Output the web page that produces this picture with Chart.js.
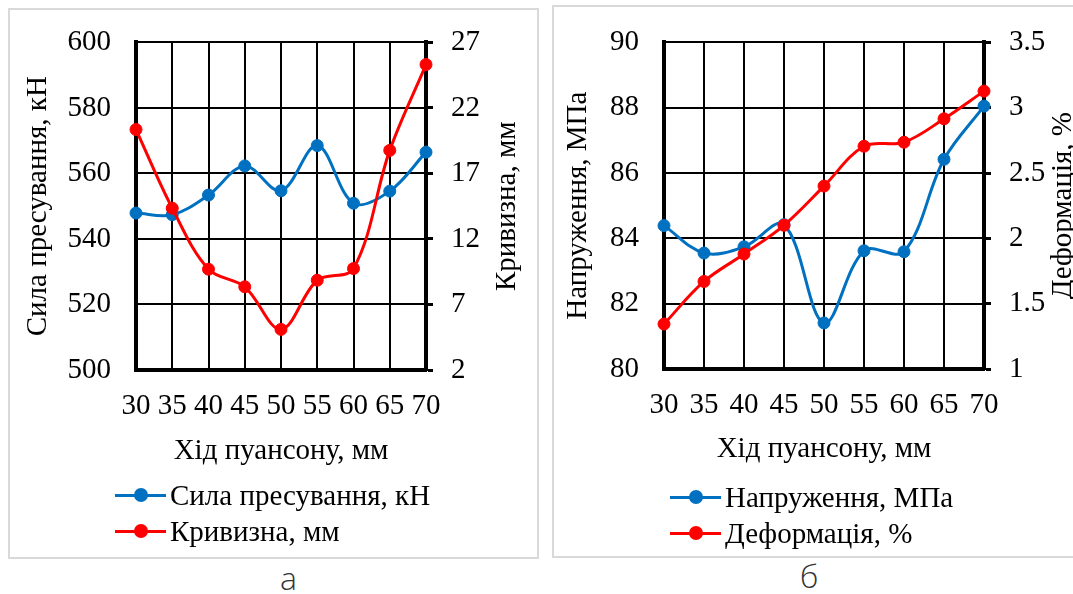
<!DOCTYPE html>
<html><head><meta charset="utf-8">
<script src="https://cdn.jsdelivr.net/npm/chart.js@4.4.1/dist/chart.umd.min.js"></script>
<style>
html,body{margin:0;padding:0;background:#fff;}
body{width:1073px;height:594px;overflow:hidden;position:relative;font-family:'Liberation Serif','Times New Roman',Tinos,'DejaVu Serif',serif;}
.frame{position:absolute;border:2px solid #d9d9d9;box-sizing:border-box;}
#frameA{left:8px;top:8px;width:531px;height:551px;}
#frameB{left:552px;top:5px;width:540px;height:553px;}
canvas{position:absolute;top:0;}
#cA{left:0;}
#cB{left:548px;}
.legend{position:absolute;font-size:29px;color:#000;}
.item{display:flex;align-items:center;height:36px;white-space:nowrap;}
.sample{position:relative;width:51px;height:14px;margin-right:4px;flex:none;}
.sample .ln{position:absolute;left:0;right:0;top:5.5px;height:3px;}
.sample .dot{position:absolute;left:18.5px;top:0;width:14px;height:14px;border-radius:50%;}
.cap{position:absolute;font-family:'Open Sans',sans-serif;font-weight:300;font-size:32px;color:#333;line-height:1;}
</style>
</head><body>
<div class="frame" id="frameA"></div>
<div class="frame" id="frameB"></div>
<canvas id="cA" width="545" height="480"></canvas>
<canvas id="cB" width="525" height="480"></canvas>
<div class="legend" id="legA" style="left:115px;top:477px;"></div>
<div class="legend" id="legB" style="left:670px;top:479px;"></div>
<div class="cap" style="left:280px;top:562px;">а</div>
<div class="cap" style="left:800px;top:560px;">б</div>
<script>
// ---- data ----
const categories = ['30', '35', '40', '45', '50', '55', '60', '65', '70'];
const xTitle = 'Хід пуансону, мм';

const forceLabel = 'Сила пресування, кН';
const forceKN = [547.9, 547.4, 553.4, 562.3, 554.7, 568.5, 550.9, 554.6, 566.5];
const forceTicks = [500, 520, 540, 560, 580, 600];

const curvLabel = 'Кривизна, мм';
const curvatureMM = [20.35, 14.35, 9.69, 8.35, 5.1, 8.85, 9.74, 18.76, 25.31];
const curvTicks = [2, 7, 12, 17, 22, 27];

const stressLabel = 'Напруження, МПа';
const stressMPa = [84.39, 83.55, 83.74, 84.42, 81.41, 83.62, 83.59, 86.42, 88.05];
const stressTicks = [80, 82, 84, 86, 88, 90];

const strainLabel = 'Деформація, %';
const strainPct = [1.344, 1.67, 1.88, 2.10, 2.40, 2.705, 2.736, 2.915, 3.127];
const strainTicks = [1, 1.5, 2, 2.5, 3, 3.5];

// ---- styles ----
const BLUE = '#0070C0';
const RED = '#FF0000';
const FONT = "'Liberation Serif', 'Times New Roman', Tinos, 'DejaVu Serif', serif";
const FSIZE = 29;

const titlePlugin = {
  id: 'axisTitles',
  afterDraw(chart, args, opts) {
    const {ctx, chartArea} = chart;
    ctx.save();
    ctx.fillStyle = '#000';
    ctx.font = FSIZE + 'px ' + FONT;
    ctx.textAlign = 'center';
    ctx.textBaseline = 'middle';
    const cy = (chartArea.top + chartArea.bottom) / 2;
    [opts.left, opts.right].forEach(t => {
      ctx.save();
      ctx.translate(t.x, cy);
      ctx.rotate(-Math.PI / 2);
      ctx.fillText(t.text, 0, 0);
      ctx.restore();
    });
    ctx.textBaseline = 'alphabetic';
    ctx.fillText(opts.bottom.text, (chartArea.left + chartArea.right) / 2, opts.bottom.y);
    ctx.restore();
  }
};

function axisY(ticksArr, pos, width, pad) {
  const isRight = pos === 'right';
  return {
    position: pos,
    min: ticksArr[0],
    max: ticksArr[ticksArr.length - 1],
    afterBuildTicks: s => { s.ticks = ticksArr.map(v => ({value: v})); },
    ticks: {stepSize: ticksArr[1] - ticksArr[0], font: {family: FONT, size: FSIZE}, color: '#000', padding: pad,
            callback: v => String(v)},
    grid: isRight
      ? {drawOnChartArea: false, drawTicks: true, tickLength: 7, tickWidth: 3, color: '#000'}
      : {color: '#000', lineWidth: 2, drawTicks: false},
    border: {display: true, color: '#000', width: 4},
    afterFit: s => { s.width = width; }
  };
}

function makeChart(id, c) {
  return new Chart(document.getElementById(id), {
    type: 'line',
    data: {
      labels: categories,
      datasets: [
        {label: c.l1, data: c.d1, yAxisID: 'y', borderColor: BLUE, backgroundColor: BLUE,
         pointBackgroundColor: BLUE, pointBorderColor: BLUE, order: 2, clip: false},
        {label: c.l2, data: c.d2, yAxisID: 'y1', borderColor: RED, backgroundColor: RED,
         pointBackgroundColor: RED, pointBorderColor: RED, order: 1, clip: false}
      ]
    },
    options: {
      responsive: false, animation: false, devicePixelRatio: 1,
      layout: {padding: {top: c.top, left: 0, right: 0, bottom: 0}},
      elements: {
        line: {tension: 0.35, borderWidth: 3, fill: false},
        point: {radius: 6, borderWidth: 1, hoverRadius: 6}
      },
      plugins: {
        legend: {display: false},
        tooltip: {enabled: false},
        axisTitles: {
          left: {text: c.l1, x: c.tl},
          right: {text: c.l2, x: c.tr},
          bottom: {text: xTitle, y: c.tb}
        }
      },
      scales: {
        x: {
          offset: false,
          grid: {color: '#000', lineWidth: 2, drawTicks: false},
          border: {display: true, color: '#000', width: 4},
          ticks: {font: {family: FONT, size: FSIZE}, color: '#000', padding: 19, maxRotation: 0, autoSkip: false},
          afterFit: s => { s.height = c.xH; }
        },
        y: axisY(c.t1, 'left', c.lw, 25),
        y1: axisY(c.t2, 'right', c.rw, 18)
      }
    },
    plugins: [titlePlugin]
  });
}

function legend(id, items) {
  const el = document.getElementById(id);
  items.forEach(([txt, col]) => {
    const row = document.createElement('div');
    row.className = 'item';
    const s = document.createElement('span');
    s.className = 'sample';
    s.innerHTML = '<span class="ln" style="background:' + col + '"></span><span class="dot" style="background:' + col + '"></span>';
    const t = document.createElement('span');
    t.textContent = txt;
    row.appendChild(s); row.appendChild(t);
    el.appendChild(row);
  });
}
legend('legA', [[forceLabel, BLUE], [curvLabel, RED]]);
legend('legB', [[stressLabel, BLUE], [strainLabel, RED]]);

function build() {
  makeChart('cA', {l1: forceLabel, d1: forceKN, t1: forceTicks,
    l2: curvLabel, d2: curvatureMM, t2: curvTicks,
    top: 39, lw: 136, rw: 545 - 426, xH: 480 - 370, tl: 38.5, tr: 507, tb: 459});
  makeChart('cB', {l1: stressLabel, d1: stressMPa, t1: stressTicks,
    l2: strainLabel, d2: strainPct, t2: strainTicks,
    top: 22, lw: 116, rw: 525 - 436, xH: 480 - 369, tl: 30.5, tr: 515, tb: 457});
}
if (document.fonts && document.fonts.load) {
  document.fonts.load(FSIZE + 'px ' + FONT, 'Сила 0123').then(build, build);
} else { build(); }
</script>
</body></html>
